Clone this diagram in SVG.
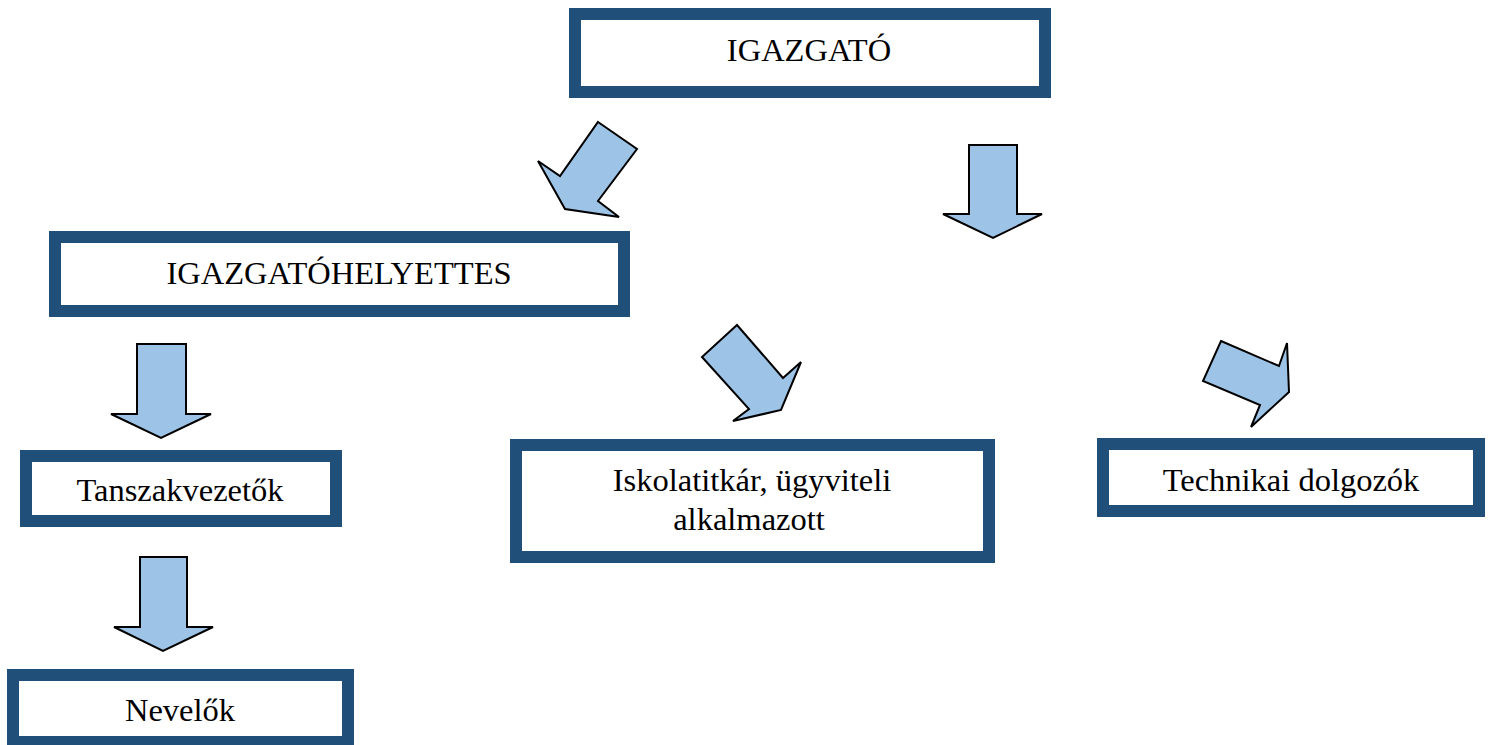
<svg xmlns="http://www.w3.org/2000/svg" width="1491" height="745" viewBox="0 0 1491 745">
<style>
.box{fill:#ffffff;stroke:#204F7A;stroke-width:12}
.lbl{font-family:"Liberation Serif","Times New Roman",serif;font-size:32.5px;fill:#000;text-anchor:middle}
.arr{fill:#9DC3E6;stroke:#000;stroke-width:2;stroke-linejoin:miter}
</style>
<rect width="1491" height="745" fill="#ffffff"/>
<g id="connectors">
<polygon class="arr" points="598,122 637,149 598,201 619,217 565,209 538,161 560,176"/>
<polygon class="arr" points="969,145 1017,145 1017,214 1042,214 993,238 943,214 969,214"/>
<polygon class="arr" points="137,344 186,344 186,414 211,414 161,438 111,414 137,414"/>
<polygon class="arr" points="140,557 187,557 187,627 213,627 163,651 114,627 140,627"/>
<polygon class="arr" points="737,325 783,378 801,362 781,410 733,421 749,409 702,357"/>
<polygon class="arr" points="1221,341 1279,366 1287,343 1289,392 1251,427 1260,405 1203,381"/>
</g>
<g id="igazgato">
<rect class="box" x="575" y="14" width="470" height="78"/>
<text class="lbl" x="809" y="61">IGAZGATÓ</text>
</g>
<g id="igazgatohelyettes">
<rect class="box" x="55" y="237" width="569" height="74"/>
<text class="lbl" x="339" y="284">IGAZGATÓHELYETTES</text>
</g>
<g id="tanszakvezetok">
<rect class="box" x="26" y="456" width="310" height="65"/>
<text class="lbl" x="180" y="501">Tanszakvezetők</text>
</g>
<g id="nevelok">
<rect class="box" x="13" y="675" width="335" height="67"/>
<text class="lbl" x="180" y="721">Nevelők</text>
</g>
<g id="iskolatitkar">
<rect class="box" x="516" y="445" width="473" height="112"/>
<text class="lbl" x="752" y="491">Iskolatitkár, ügyviteli</text>
<text class="lbl" x="749" y="530">alkalmazott</text>
</g>
<g id="technikai">
<rect class="box" x="1103" y="444" width="376" height="67"/>
<text class="lbl" x="1291" y="491">Technikai dolgozók</text>
</g>
</svg>
